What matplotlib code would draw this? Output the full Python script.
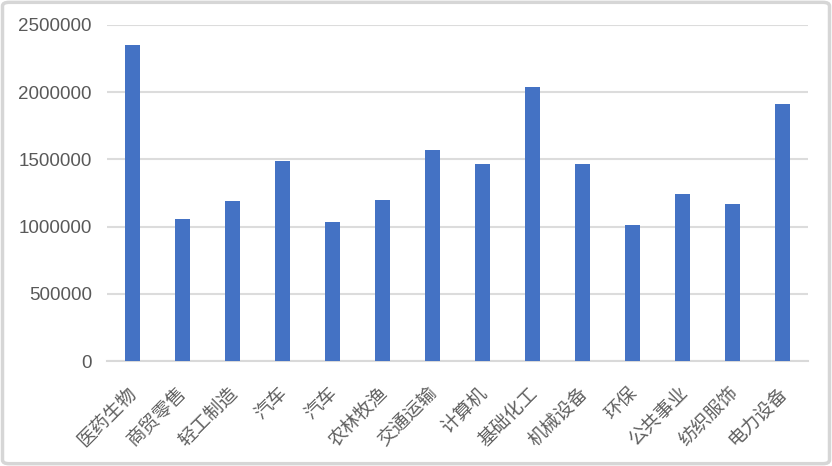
import matplotlib
matplotlib.use("Agg")
import matplotlib.pyplot as plt
from matplotlib.patches import FancyBboxPatch
import matplotlib.transforms as mtransforms

plt.rcParams['font.family'] = ['Noto Sans CJK SC', 'DejaVu Sans']

# 行业及对应数值
industries = ["医药生物", "商贸零售", "轻工制造", "汽车", "汽车", "农林牧渔", "交通运输",
              "计算机", "基础化工", "机械设备", "环保", "公共事业", "纺织服饰", "电力设备"]
values = [2350000, 1058000, 1187000, 1487000, 1035000, 1197000, 1573000,
          1462000, 2035000, 1462000, 1010000, 1243000, 1171000, 1912000]
yticks = [0, 500000, 1000000, 1500000, 2000000, 2500000]

fig = plt.figure(figsize=(8.32, 4.66), dpi=100)
ax = fig.add_axes([0.1286, 0.2253, 0.8425, 0.7211])

x = list(range(len(industries)))
ax.bar(x, values, width=0.3, color="#4472C4", zorder=3)

ax.set_xlim(-0.5, len(industries) - 0.5)
ax.set_ylim(0, 2500000)
ax.set_yticks(yticks)
ax.set_yticklabels([str(v) for v in yticks], family='Liberation Sans', fontsize=13.5, color="#595959")
ax.yaxis.grid(True, color="#dcdcdc", linewidth=1.5, zorder=0)
ax.tick_params(axis='y', length=0, pad=11)
ax.tick_params(axis='x', length=0, pad=21)

ax.set_xticks(x)
ax.set_xticklabels(industries, rotation=45, ha='right', va='center', rotation_mode='anchor',
                   fontsize=13.5, color="#606060")
# shift the labels a bit to the right like the original
offset = mtransforms.ScaledTranslation(2 / 100, 0, fig.dpi_scale_trans)
for lbl in ax.get_xticklabels():
    lbl.set_transform(lbl.get_transform() + offset)

for s in ["top", "right", "left"]:
    ax.spines[s].set_visible(False)
ax.spines["bottom"].set_color("#d9d9d9")
ax.spines["bottom"].set_linewidth(1.5)

# outer frame
frame = FancyBboxPatch((0.003, 0.005), 0.994, 0.99, boxstyle="round,pad=0,rounding_size=0.008",
                       transform=fig.transFigure, fill=False, edgecolor="#d6d6d6", linewidth=2.5)
fig.patches.append(frame)

fig.savefig("out.png", dpi=100)
